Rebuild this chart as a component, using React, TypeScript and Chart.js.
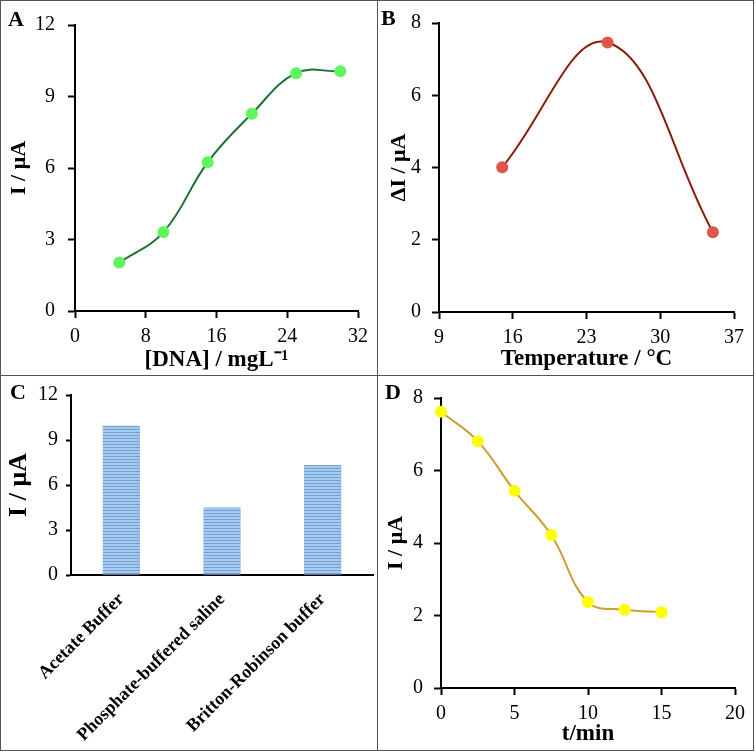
import React, { useEffect, useRef } from 'react';
import { Chart, registerables } from 'chart.js';

Chart.register(...registerables);

const FONT = '"Liberation Serif", "Times New Roman", serif';

// Panel A: current vs DNA concentration
const dnaConc = [5, 10, 15, 20, 25, 30];
const dnaCurrent = [2.03, 3.31, 6.24, 8.28, 9.98, 10.06];
const dnaXTicks = [0, 8, 16, 24, 32];
const dnaYTicks = [0, 3, 6, 9, 12];

// Panel B: delta current vs temperature
const temperature = [15, 25, 35];
const tempDeltaI = [4.01, 7.46, 2.21];
const tempXTicks = [9, 16, 23, 30, 37];
const tempYTicks = [0, 2, 4, 6, 8];

// Panel C: current vs buffer
const buffers = ['Acetate Buffer', 'Phosphate-buffered saline', 'Britton-Robinson buffer'];
const bufferCurrent = [9.95, 4.5, 7.33];
const bufferYTicks = [0, 3, 6, 9, 12];

// Panel D: current vs time
const timeMin = [0, 2.5, 5, 7.5, 10, 12.5, 15];
const timeCurrent = [7.62, 6.81, 5.44, 4.22, 2.37, 2.16, 2.09];
const timeXTicks = [0, 5, 10, 15, 20];
const timeYTicks = [0, 2, 4, 6, 8];

const first = (a: number[]) => a[0];
const last = (a: number[]) => a[a.length - 1];
const step = (a: number[]) => a[1] - a[0];

function yAxis(ticks: number[], title: string, width: number, titlePad: number, tickPad: number, titleSize = 22, tickLen = 7) {
  return {
    type: 'linear',
    position: 'left',
    min: first(ticks),
    max: last(ticks),
    ticks: { stepSize: step(ticks), padding: tickPad, color: '#000', font: { family: FONT, size: 20 } },
    grid: { display: true, drawOnChartArea: false, drawTicks: true, tickLength: tickLen, tickWidth: 2, tickColor: '#000' },
    border: { display: true, color: '#000', width: 2 },
    title: {
      display: true,
      text: title,
      color: '#000',
      font: { family: FONT, size: titleSize, weight: 'bold' },
      padding: { top: titlePad, bottom: 0 },
    },
    afterFit: (s: any) => {
      s.width = width;
    },
  };
}

function xAxis(ticks: number[], title: string, height: number, titlePad: number, tickPad: number) {
  return {
    type: 'linear',
    position: 'bottom',
    min: first(ticks),
    max: last(ticks),
    ticks: { stepSize: step(ticks), padding: tickPad, color: '#000', maxRotation: 0, autoSkip: false, font: { family: FONT, size: 20 } },
    grid: { display: true, drawOnChartArea: false, drawTicks: true, tickLength: 7, tickWidth: 2, tickColor: '#000' },
    border: { display: true, color: '#000', width: 2 },
    title: {
      display: true,
      text: title,
      color: '#000',
      font: { family: FONT, size: 23, weight: 'bold' },
      padding: { top: 0, bottom: titlePad },
    },
    afterFit: (s: any) => {
      s.height = height;
    },
  };
}

function panelLetter(text: string, x: number, y: number) {
  return {
    id: 'panelLetter' + text,
    afterDraw(chart: any) {
      const ctx = chart.ctx;
      ctx.save();
      ctx.font = `bold 22px ${FONT}`;
      ctx.fillStyle = '#000';
      ctx.textBaseline = 'alphabetic';
      ctx.textAlign = 'left';
      ctx.fillText(text, x, y);
      ctx.restore();
    },
  };
}

function lineConfig(
  xs: number[],
  ys: number[],
  lineColor: string,
  pointColor: string,
  x: any,
  y: any,
  padding: any,
  letter: any
) {
  return {
    type: 'line',
    data: {
      datasets: [
        {
          data: xs.map((v, i) => ({ x: v, y: ys[i] })),
          borderColor: lineColor,
          borderWidth: 2,
          tension: 0.4,
          pointRadius: 6,
          pointBackgroundColor: pointColor,
          pointBorderColor: pointColor,
          pointBorderWidth: 0,
          clip: false,
          fill: false,
        },
      ],
    },
    options: {
      animation: false,
      responsive: false,
      devicePixelRatio: 1,
      layout: { padding },
      plugins: { legend: { display: false }, tooltip: { enabled: false } },
      scales: { x, y },
    },
    plugins: [letter],
  };
}

function stripePattern() {
  const c = document.createElement('canvas');
  c.width = 4;
  c.height = 3;
  const g = c.getContext('2d')!;
  g.fillStyle = '#a9c9ec';
  g.fillRect(0, 0, 4, 3);
  g.fillStyle = '#6fa2da';
  g.fillRect(0, 0, 4, 1);
  return g.createPattern(c, 'repeat');
}

const buildA = () =>
  lineConfig(
    dnaConc,
    dnaCurrent,
    '#1c7230',
    '#5ef55e',
    xAxis(dnaXTicks, '[DNA] / mgL⁻¹', 64, 1, 7),
    yAxis(dnaYTicks, 'I / μA', 75, 6, 13),
    { left: 0, top: 14, right: 19, bottom: 0 },
    panelLetter('A', 8, 26)
  );

const buildB = () =>
  lineConfig(
    temperature,
    tempDeltaI,
    '#8b1c0c',
    '#e0554a',
    xAxis(tempXTicks, 'Temperature / °C', 63, 2, 7),
    yAxis(tempYTicks, 'ΔI / μA', 62, 9, 11),
    { left: 0, top: 13, right: 20, bottom: 0 },
    panelLetter('B', 4, 25)
  );

const buildD = () =>
  lineConfig(
    timeMin,
    timeCurrent,
    '#c9a030',
    '#ffff00',
    xAxis(timeXTicks, 't/min', 63, 3, 7),
    yAxis(timeYTicks, 'I / μA', 64, 6, 11),
    { left: 0, top: 16, right: 19, bottom: 0 },
    panelLetter('D', 8, 24)
  );

const buildC = () => ({
  type: 'bar',
  data: {
    labels: buffers,
    datasets: [
      {
        data: bufferCurrent,
        backgroundColor: stripePattern(),
        borderWidth: 0,
        barPercentage: 0.37,
        categoryPercentage: 1.0,
      },
    ],
  },
  options: {
    animation: false,
    responsive: false,
    devicePixelRatio: 1,
    layout: { padding: { left: 0, top: 14, right: 4, bottom: 0 } },
    plugins: { legend: { display: false }, tooltip: { enabled: false } },
    scales: {
      x: {
        type: 'category',
        position: 'bottom',
        ticks: {
          color: '#000',
          autoSkip: false,
          minRotation: 45,
          maxRotation: 45,
          padding: 6,
          font: { family: FONT, size: 18, weight: 'bold' },
        },
        grid: { display: false },
        border: { display: true, color: '#000', width: 2 },
        afterFit: (s: any) => {
          s.height = 176;
        },
      },
      y: yAxis(bufferYTicks, 'I / μA', 71, 4, 8, 26, 5),
    },
  },
  plugins: [panelLetter('C', 10, 24)],
});

function ChartPanel({ left, top, width, height, build }: any) {
  const ref = useRef<HTMLCanvasElement>(null);
  useEffect(() => {
    const chart = new Chart(ref.current as HTMLCanvasElement, build() as any);
    return () => chart.destroy();
  }, []);
  return (
    <canvas
      ref={ref}
      width={width}
      height={height}
      style={{ position: 'absolute', left, top, width, height, display: 'block' }}
    />
  );
}

export default function App() {
  return (
    <div style={{ position: 'absolute', left: 0, top: 0, width: 756, height: 752, background: '#fff', overflow: 'hidden' }}>
      <ChartPanel left={0} top={0} width={377} height={375} build={buildA} />
      <ChartPanel left={377} top={0} width={377} height={375} build={buildB} />
      <ChartPanel left={0} top={375} width={377} height={376} build={buildC} />
      <ChartPanel left={377} top={375} width={377} height={376} build={buildD} />
      <div style={{ position: 'absolute', left: 0, top: 0, width: 754, height: 751, border: '1px solid #555', boxSizing: 'border-box' }} />
      <div style={{ position: 'absolute', left: 377, top: 0, width: 1, height: 751, background: '#555' }} />
      <div style={{ position: 'absolute', left: 0, top: 375, width: 754, height: 1, background: '#555' }} />
    </div>
  );
}
